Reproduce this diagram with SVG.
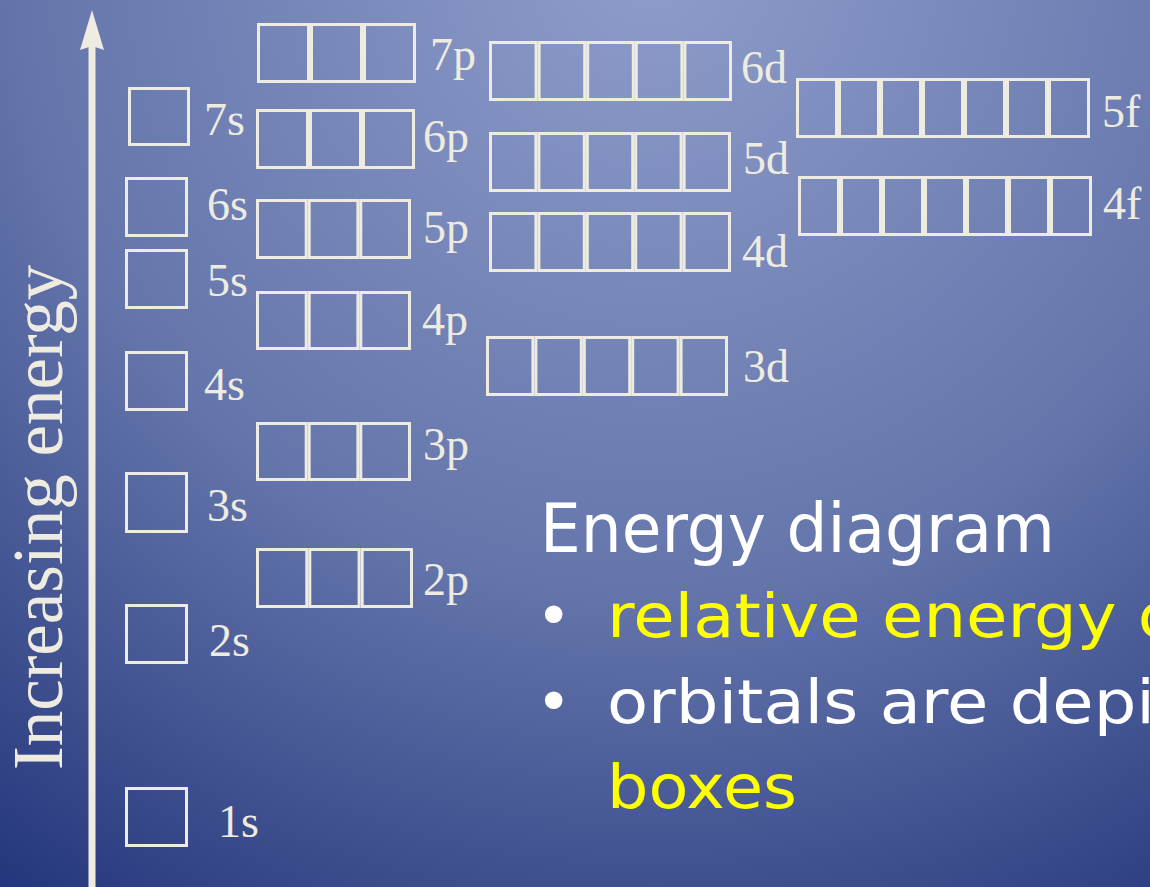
<svg xmlns="http://www.w3.org/2000/svg" width="1150" height="887" viewBox="0 0 1150 887">
<defs>
<radialGradient id="bg" gradientUnits="userSpaceOnUse" cx="650" cy="-40" r="1150">
<stop offset="0" stop-color="#8e9dca"/>
<stop offset="0.55" stop-color="#6475ab"/>
<stop offset="1" stop-color="#22347a"/>
</radialGradient>
<marker id="head" markerUnits="userSpaceOnUse" markerWidth="42" markerHeight="26" refX="4" refY="13" orient="auto" viewBox="0 0 42 26">
<path d="M40,13 L0,25 L4,13 L0,1 Z" fill="#eeebe0"/>
</marker>
</defs>
<style>
.box{fill:none;stroke:#eeebe0;stroke-width:3}
.lbl{font-family:"Liberation Serif","Times New Roman",serif;font-size:46px;fill:#eeebe0}
.txt{font-family:"DejaVu Sans","Liberation Sans",sans-serif;font-size:60px}
.w{fill:#ffffff}
.y{fill:#ffff00}
</style>
<rect x="0" y="0" width="1150" height="887" fill="url(#bg)"/>

<g id="connectors">
<line x1="92" y1="887" x2="92" y2="46" stroke="#eeebe0" stroke-width="7" marker-end="url(#head)"/>
</g>
<g id="axis-label">
<text class="lbl" style="font-size:71px" transform="translate(62,770) rotate(-90)">Increasing energy</text>
</g>

<g id="orb-1s"><rect class="box" x="126.5" y="788.5" width="60" height="57"/><text class="lbl" x="218" y="837">1s</text></g>
<g id="orb-2s"><rect class="box" x="126.5" y="605.5" width="60" height="57"/><text class="lbl" x="209" y="656">2s</text></g>
<g id="orb-3s"><rect class="box" x="126.5" y="473.5" width="60" height="58"/><text class="lbl" x="207" y="521">3s</text></g>
<g id="orb-4s"><rect class="box" x="126.5" y="352.5" width="60" height="57"/><text class="lbl" x="204" y="400">4s</text></g>
<g id="orb-5s"><rect class="box" x="126.5" y="250.5" width="60" height="57"/><text class="lbl" x="207" y="296">5s</text></g>
<g id="orb-6s"><rect class="box" x="126.5" y="178.5" width="60" height="57"/><text class="lbl" x="207" y="220">6s</text></g>
<g id="orb-7s"><rect class="box" x="129.5" y="88.5" width="59" height="56"/><text class="lbl" x="204" y="135">7s</text></g>

<g id="orb-2p">
<rect class="box" x="257.5" y="549.5" width="49.3" height="57"/><rect class="box" x="309.8" y="549.5" width="49.3" height="57"/><rect class="box" x="362.2" y="549.5" width="49.3" height="57"/>
<text class="lbl" x="423" y="595">2p</text></g>
<g id="orb-3p">
<rect class="box" x="257.5" y="423.5" width="48.7" height="56"/><rect class="box" x="309.2" y="423.5" width="48.7" height="56"/><rect class="box" x="360.8" y="423.5" width="48.7" height="56"/>
<text class="lbl" x="423" y="460">3p</text></g>
<g id="orb-4p">
<rect class="box" x="257.5" y="292.5" width="48.7" height="56"/><rect class="box" x="309.2" y="292.5" width="48.7" height="56"/><rect class="box" x="360.8" y="292.5" width="48.7" height="56"/>
<text class="lbl" x="422" y="335">4p</text></g>
<g id="orb-5p">
<rect class="box" x="257.5" y="200.5" width="48.7" height="57"/><rect class="box" x="309.2" y="200.5" width="48.7" height="57"/><rect class="box" x="360.8" y="200.5" width="48.7" height="57"/>
<text class="lbl" x="423" y="243">5p</text></g>
<g id="orb-6p">
<rect class="box" x="257.5" y="110.5" width="50" height="57"/><rect class="box" x="310.5" y="110.5" width="50" height="57"/><rect class="box" x="363.5" y="110.5" width="50" height="57"/>
<text class="lbl" x="423" y="152">6p</text></g>
<g id="orb-7p">
<rect class="box" x="258.5" y="24.5" width="50" height="57"/><rect class="box" x="311.5" y="24.5" width="50" height="57"/><rect class="box" x="364.5" y="24.5" width="50" height="57"/>
<text class="lbl" x="430" y="70">7p</text></g>

<g id="orb-3d">
<rect class="box" x="487.5" y="337.5" width="45.4" height="57"/><rect class="box" x="535.9" y="337.5" width="45.4" height="57"/><rect class="box" x="584.3" y="337.5" width="45.4" height="57"/><rect class="box" x="632.7" y="337.5" width="45.4" height="57"/><rect class="box" x="681.1" y="337.5" width="45.4" height="57"/>
<text class="lbl" x="743" y="382">3d</text></g>
<g id="orb-4d">
<rect class="box" x="490.5" y="213.5" width="45.4" height="57"/><rect class="box" x="538.9" y="213.5" width="45.4" height="57"/><rect class="box" x="587.3" y="213.5" width="45.4" height="57"/><rect class="box" x="635.7" y="213.5" width="45.4" height="57"/><rect class="box" x="684.1" y="213.5" width="45.4" height="57"/>
<text class="lbl" x="742" y="267">4d</text></g>
<g id="orb-5d">
<rect class="box" x="490.5" y="133.5" width="45.4" height="57"/><rect class="box" x="538.9" y="133.5" width="45.4" height="57"/><rect class="box" x="587.3" y="133.5" width="45.4" height="57"/><rect class="box" x="635.7" y="133.5" width="45.4" height="57"/><rect class="box" x="684.1" y="133.5" width="45.4" height="57"/>
<text class="lbl" x="743" y="174">5d</text></g>
<g id="orb-6d">
<rect class="box" x="490.5" y="42.5" width="45.6" height="57"/><rect class="box" x="539.1" y="42.5" width="45.6" height="57"/><rect class="box" x="587.7" y="42.5" width="45.6" height="57"/><rect class="box" x="636.3" y="42.5" width="45.6" height="57"/><rect class="box" x="684.9" y="42.5" width="45.6" height="57"/>
<text class="lbl" x="741" y="83">6d</text></g>

<g id="orb-4f">
<rect class="box" x="799.5" y="177.5" width="39" height="57"/><rect class="box" x="841.5" y="177.5" width="39" height="57"/><rect class="box" x="883.5" y="177.5" width="39" height="57"/><rect class="box" x="925.5" y="177.5" width="39" height="57"/><rect class="box" x="967.5" y="177.5" width="39" height="57"/><rect class="box" x="1009.5" y="177.5" width="39" height="57"/><rect class="box" x="1051.5" y="177.5" width="39" height="57"/>
<text class="lbl" x="1103" y="219">4f</text></g>
<g id="orb-5f">
<rect class="box" x="797.5" y="79.5" width="39" height="57"/><rect class="box" x="839.5" y="79.5" width="39" height="57"/><rect class="box" x="881.5" y="79.5" width="39" height="57"/><rect class="box" x="923.5" y="79.5" width="39" height="57"/><rect class="box" x="965.5" y="79.5" width="39" height="57"/><rect class="box" x="1007.5" y="79.5" width="39" height="57"/><rect class="box" x="1049.5" y="79.5" width="39" height="57"/>
<text class="lbl" x="1102" y="127">5f</text></g>

<g id="caption">
<text class="txt w" x="540" y="552" style="font-size:68px" textLength="515" lengthAdjust="spacingAndGlyphs">Energy diagram</text>
<text class="txt w" x="536" y="637">•</text>
<text class="txt y" x="607" y="637" textLength="572" lengthAdjust="spacingAndGlyphs">relative energy o</text>
<text class="txt w" x="536" y="723">•</text>
<text class="txt w" x="607" y="723" textLength="548" lengthAdjust="spacingAndGlyphs">orbitals are depi</text>
<text class="txt y" x="607" y="808" textLength="190" lengthAdjust="spacingAndGlyphs">boxes</text>
</g>
</svg>
